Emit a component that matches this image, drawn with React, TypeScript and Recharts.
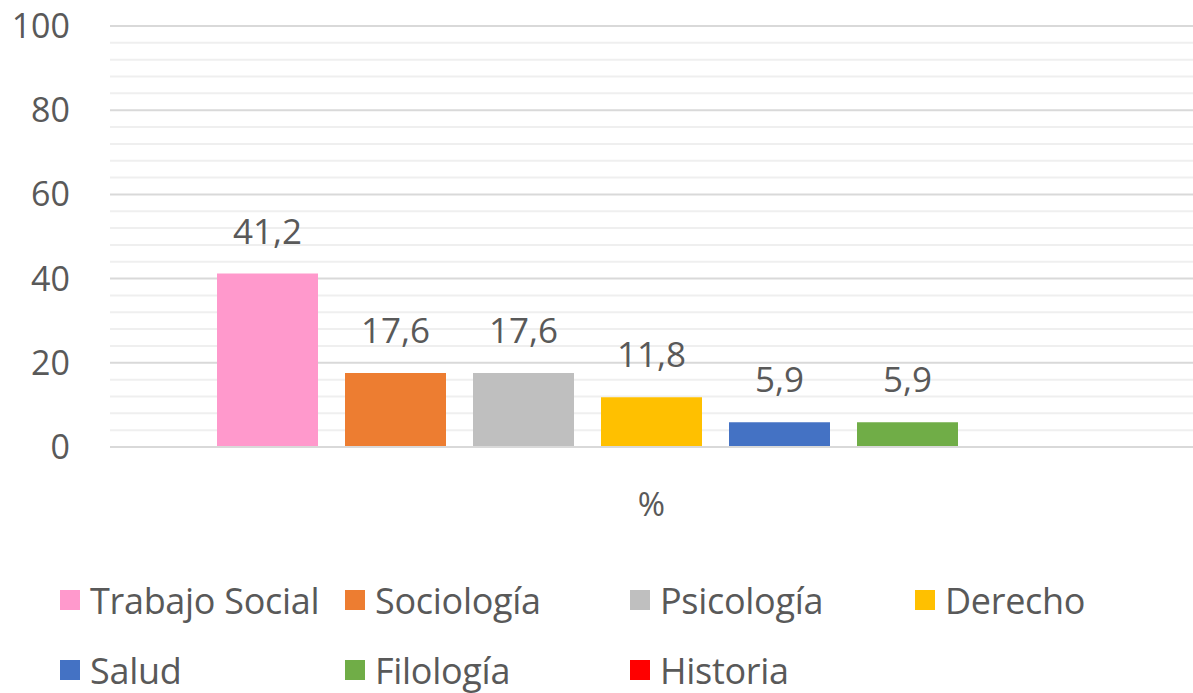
import { BarChart, Bar, XAxis, YAxis, CartesianGrid, LabelList } from 'recharts';

const categories = ['%'];
const seriesNames = ['Trabajo Social', 'Sociología', 'Psicología', 'Derecho', 'Salud', 'Filología', 'Historia'];
const seriesValues = [41.2, 17.6, 17.6, 11.8, 5.9, 5.9, 0];
const seriesColors = ['#ff99cc', '#ed7d31', '#bfbfbf', '#ffc000', '#4472c4', '#70ad47', '#ff0000'];
const yTicks = [0, 20, 40, 60, 80, 100];
const minorTicks = [4, 8, 12, 16, 24, 28, 32, 36, 44, 48, 52, 56, 64, 68, 72, 76, 84, 88, 92, 96];

const data = categories.map((name) => {
  const row: Record<string, string | number> = { name };
  seriesNames.forEach((s, i) => (row[s] = seriesValues[i]));
  return row;
});

const FONT = '"Open Sans", sans-serif';
const TEXT = '#595959';

const fmt = (v: any) => (v ? String(v).replace('.', ',') : '');

// minor gridlines: map values through the y axis scale
const minorLines = ({ yAxis, offset }: any) =>
  minorTicks.map((t) =>
    yAxis && typeof yAxis.scale === 'function'
      ? yAxis.scale(t)
      : offset.top + offset.height * (1 - t / 100)
  );

function LegendGrid() {
  return (
    <div
      style={{
        position: 'absolute',
        left: 60,
        top: 578,
        display: 'grid',
        gridTemplateColumns: 'repeat(4, 285px)',
        rowGap: 26,
        fontFamily: FONT,
        fontSize: 36,
        color: TEXT,
      }}
    >
      {seriesNames.map((s, i) => (
        <div key={s} style={{ display: 'flex', alignItems: 'center', height: 44, whiteSpace: 'nowrap' }}>
          <span style={{ width: 20, height: 20, background: seriesColors[i], marginRight: 10, flex: 'none' }} />
          <span style={{ letterSpacing: -0.3 }}>{s}</span>
        </div>
      ))}
    </div>
  );
}

export default function App() {
  return (
    <div style={{ position: 'absolute', left: 0, top: 0, width: 1193, height: 693, background: '#fff', overflow: 'hidden' }}>
      <BarChart
        width={1193}
        height={693}
        data={data}
        margin={{ top: 26, right: 0, bottom: 0, left: 0 }}
        barSize={101}
        barGap={27}
      >
        <CartesianGrid
          vertical={false}
          stroke="#efefef"
          strokeWidth={2}
          horizontalCoordinatesGenerator={minorLines}
        />
        <CartesianGrid vertical={false} stroke="#d9d9d9" strokeWidth={2} />
        <XAxis
          dataKey="name"
          height={246}
          tickLine={false}
          axisLine={{ stroke: '#d9d9d9', strokeWidth: 2 }}
          tickSize={0}
          tickMargin={46}
          tick={{ fill: TEXT, fontSize: 33, fontFamily: FONT }}
        />
        <YAxis
          width={110}
          domain={[0, 100]}
          ticks={yTicks}
          axisLine={false}
          tickLine={false}
          tickSize={0}
          tickMargin={40}
          tick={{ fill: TEXT, fontSize: 34, fontFamily: FONT }}
        />
        {seriesNames.map((s, i) => (
          <Bar key={s} dataKey={s} fill={seriesColors[i]} isAnimationActive={false}>
            <LabelList
              dataKey={s}
              position="top"
              offset={30}
              formatter={fmt}
              style={{ fill: TEXT, fontSize: 35, fontFamily: FONT }}
            />
          </Bar>
        ))}
      </BarChart>
      <LegendGrid />
    </div>
  );
}
